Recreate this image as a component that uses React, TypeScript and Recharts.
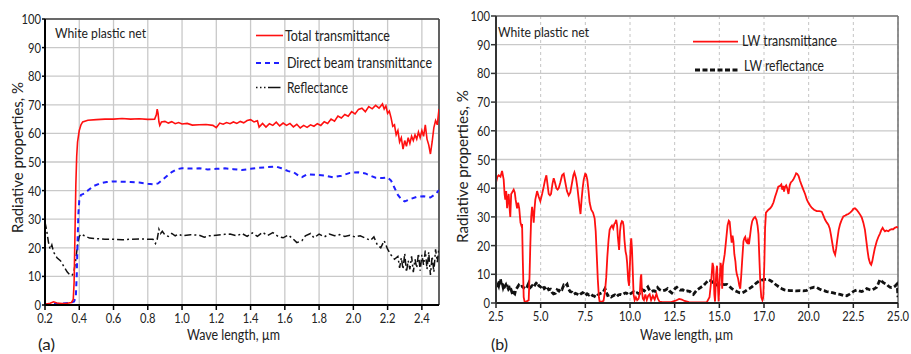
import React from 'react';
import { LineChart, Line, XAxis, YAxis, CartesianGrid, ReferenceLine, Legend } from 'recharts';

const FONT = "Lato, 'Noto Sans', sans-serif";

// ---------- Panel (a) : solar range ----------
const aTicks = [0.2, 0.4, 0.6, 0.8, 1.0, 1.2, 1.4, 1.6, 1.8, 2.0, 2.2, 2.4];
const yTicks = [0, 10, 20, 30, 40, 50, 60, 70, 80, 90, 100];

const aTotal: [number, number][] = [
  [0.2, 0.2], [0.23, 0.6], [0.25, 1.1], [0.27, 0.7], [0.3, 0.5], [0.33, 0.6], [0.355, 0.9], [0.365, 2],
  [0.37, 8], [0.375, 25], [0.38, 42], [0.385, 52], [0.39, 57], [0.4, 61], [0.41, 63], [0.42, 64],
  [0.45, 64.6], [0.5, 64.8], [0.55, 65], [0.6, 65], [0.65, 65.2], [0.7, 65], [0.75, 65.1], [0.8, 64.9],
  [0.84, 65], [0.85, 66.5], [0.855, 68.5], [0.86, 67], [0.865, 64], [0.87, 62.8], [0.88, 64], [0.9, 64.2],
  [0.92, 63.6], [0.94, 64.1], [0.96, 63.4], [0.98, 63.8], [1.0, 63.3], [1.03, 63.5], [1.06, 62.9], [1.1, 63],
  [1.14, 63.1], [1.18, 62.8], [1.2, 62.0], [1.22, 63.6], [1.24, 63.2], [1.26, 63.8], [1.28, 63.4], [1.3, 64],
  [1.32, 63.5], [1.34, 64.2], [1.36, 63.7], [1.38, 64.5], [1.4, 64.8], [1.42, 64], [1.44, 64.4], [1.45, 62.2],
  [1.47, 63.5], [1.49, 62.2], [1.51, 63.4], [1.53, 62.8], [1.55, 63.9], [1.57, 62.6], [1.59, 63.6], [1.61, 62.8],
  [1.63, 63.5], [1.65, 62.3], [1.67, 63.2], [1.69, 61.9], [1.71, 62.8], [1.73, 62.1], [1.75, 63], [1.77, 62.5],
  [1.79, 63.4], [1.81, 62.8], [1.83, 64.1], [1.85, 63.5], [1.87, 65], [1.89, 64.3], [1.91, 66.1], [1.93, 65.4],
  [1.95, 66.6], [1.97, 66], [1.99, 67.6], [2.01, 66.8], [2.03, 68.4], [2.05, 68.8], [2.07, 67.6], [2.09, 69.4],
  [2.11, 68.6], [2.13, 69.8], [2.15, 68.8], [2.17, 70.3], [2.18, 68.5], [2.19, 69.6], [2.2, 67], [2.21, 67.8],
  [2.22, 65.5], [2.23, 62.5], [2.24, 63], [2.25, 59.5], [2.26, 61], [2.27, 57], [2.28, 58.5], [2.29, 54.5],
  [2.3, 57.5], [2.31, 55.5], [2.32, 58.5], [2.33, 56.5], [2.34, 59], [2.35, 57.5], [2.36, 59.5], [2.37, 58],
  [2.38, 60.5], [2.39, 58.5], [2.4, 61], [2.41, 59], [2.42, 63], [2.43, 58], [2.44, 56], [2.45, 52.8],
  [2.46, 57], [2.47, 62], [2.48, 64.5], [2.49, 63], [2.5, 68.5],
];

const aDirect: [number, number][] = [
  [0.2, 0.3], [0.25, 0.3], [0.3, 0.5], [0.35, 0.8], [0.37, 1.2], [0.38, 3], [0.385, 10], [0.39, 22],
  [0.395, 32], [0.4, 36.5], [0.41, 38.5], [0.43, 39], [0.45, 40], [0.48, 41.5], [0.52, 42.5], [0.56, 43],
  [0.6, 43.2], [0.65, 43.1], [0.7, 43], [0.75, 42.8], [0.8, 42.4], [0.84, 42.2], [0.86, 42.5], [0.88, 43.5],
  [0.91, 45], [0.94, 46.5], [0.97, 47.5], [1.0, 47.8], [1.05, 47.7], [1.1, 47.8], [1.15, 47.4], [1.2, 47.6],
  [1.25, 47.8], [1.3, 47.5], [1.35, 47.2], [1.4, 47.6], [1.45, 48], [1.5, 48.2], [1.55, 48.4], [1.58, 47.8],
  [1.62, 46.8], [1.65, 46.5], [1.68, 45.2], [1.7, 44.7], [1.73, 45.7], [1.78, 45.5], [1.83, 45.3], [1.88, 44.7],
  [1.93, 45.2], [1.98, 46.2], [2.03, 46.4], [2.07, 46], [2.1, 45.2], [2.13, 44.5], [2.17, 44.4], [2.2, 44.6],
  [2.22, 43.5], [2.24, 41], [2.26, 38.5], [2.28, 37], [2.3, 36.2], [2.33, 37], [2.37, 37.8], [2.41, 38],
  [2.45, 37.6], [2.48, 38.8], [2.5, 40.2],
];

const aReflect: [number, number][] = [
  [0.2, 29], [0.21, 26], [0.22, 22], [0.23, 19.5], [0.24, 21], [0.25, 18.5], [0.27, 16.5], [0.29, 15.5],
  [0.31, 13.5], [0.33, 11.5], [0.35, 10.3], [0.36, 10.5], [0.37, 12], [0.38, 16], [0.39, 21], [0.4, 24],
  [0.41, 24.8], [0.43, 24.2], [0.46, 23.4], [0.5, 23.2], [0.55, 23], [0.6, 23], [0.65, 22.8], [0.7, 23],
  [0.75, 23.1], [0.8, 23], [0.83, 23], [0.845, 21.5], [0.855, 23], [0.865, 26.5], [0.875, 25], [0.885, 25.8],
  [0.9, 24.5], [0.92, 24], [0.94, 25], [0.96, 24.2], [0.98, 24.8], [1.0, 24.2], [1.05, 24.6], [1.1, 24.4],
  [1.13, 23.7], [1.16, 24.2], [1.2, 24.4], [1.25, 24.7], [1.28, 24.8], [1.32, 24.2], [1.35, 25], [1.38, 24],
  [1.41, 25.2], [1.44, 24], [1.47, 25.4], [1.5, 24.3], [1.53, 25.3], [1.56, 24], [1.59, 23.5], [1.62, 24.5],
  [1.65, 23], [1.67, 21.8], [1.7, 22.5], [1.72, 24.2], [1.75, 25], [1.77, 23.5], [1.8, 24.8], [1.83, 23.8],
  [1.86, 24.8], [1.89, 24.2], [1.92, 24.6], [1.95, 24], [1.98, 24.4], [2.01, 23.8], [2.04, 24.2], [2.07, 23.4],
  [2.1, 22.6], [2.12, 23.8], [2.14, 21], [2.16, 20], [2.18, 22.5], [2.2, 19.5], [2.22, 17.5], [2.24, 16],
  [2.26, 17], [2.27, 13], [2.28, 16.5], [2.29, 12.5], [2.3, 18], [2.31, 11.5], [2.32, 15.5], [2.33, 12.5],
  [2.34, 17], [2.35, 11.5], [2.36, 16], [2.37, 13], [2.38, 18], [2.39, 12], [2.4, 17.5], [2.41, 14],
  [2.42, 19], [2.43, 12.5], [2.44, 18.5], [2.45, 10.5], [2.46, 17], [2.47, 11.5], [2.48, 19.5], [2.49, 15],
  [2.5, 20],
];

// ---------- Panel (b) : long-wave range ----------
const bTicks = [2.5, 5, 7.5, 10, 12.5, 15, 17.5, 20, 22.5, 25];
const bTickLabels = ['2.5', '5.0', '7.5', '10.0', '12.5', '15.0', '17.0', '20.0', '22.5', '25.0'];

const bTrans: [number, number][] = [
  [2.5, 42], [2.58, 44], [2.65, 44.5], [2.75, 44], [2.84, 46], [2.93, 43], [2.98, 38], [3.02, 36],
  [3.07, 39], [3.12, 33], [3.17, 36.5], [3.21, 38], [3.26, 33], [3.3, 30], [3.35, 38], [3.4, 38.5],
  [3.49, 39.5], [3.55, 38.5], [3.6, 36], [3.68, 33], [3.74, 35], [3.8, 33], [3.87, 28], [3.92, 27],
  [3.96, 27.5], [4.0, 15], [4.05, 2], [4.1, 0.5], [4.2, 0.5], [4.33, 1], [4.38, 10], [4.42, 20],
  [4.47, 30], [4.52, 33.5], [4.57, 31], [4.61, 28], [4.66, 33], [4.7, 36], [4.8, 39], [4.89, 37],
  [4.98, 35.5], [5.08, 38], [5.17, 40.5], [5.25, 43], [5.32, 44.5], [5.39, 41], [5.45, 38], [5.52, 37.5],
  [5.58, 38], [5.66, 41.5], [5.73, 43.5], [5.8, 42], [5.88, 40], [5.95, 39.5], [6.01, 40], [6.1, 42],
  [6.2, 44.5], [6.29, 45], [6.38, 42], [6.47, 39], [6.57, 37.5], [6.66, 38.5], [6.76, 42], [6.83, 44.5],
  [6.89, 45.5], [6.98, 43.5], [7.06, 40], [7.13, 36], [7.23, 31], [7.29, 36], [7.35, 40], [7.41, 43],
  [7.49, 45], [7.54, 44.8], [7.61, 43], [7.68, 39], [7.74, 35], [7.83, 32.5], [7.93, 31.5], [8.02, 29.5],
  [8.08, 25], [8.13, 18], [8.2, 8], [8.26, 2], [8.3, 0.5], [8.45, 0.5], [8.52, 0.8], [8.6, 4],
  [8.67, 9], [8.73, 16], [8.8, 22], [8.86, 25.5], [8.93, 26.5], [8.99, 27], [9.06, 26], [9.12, 27.5],
  [9.18, 28], [9.23, 29], [9.28, 27], [9.32, 23], [9.39, 18.5], [9.44, 25], [9.49, 27.5], [9.55, 28.5],
  [9.6, 28.3], [9.64, 27], [9.69, 22], [9.75, 18], [9.8, 16.5], [9.84, 14], [9.9, 8], [9.95, 6],
  [10.0, 14], [10.04, 21], [10.07, 22.5], [10.11, 19], [10.15, 12], [10.2, 3], [10.26, 1], [10.33, 2],
  [10.4, 1], [10.48, 1.5], [10.55, 3.5], [10.6, 9], [10.63, 10], [10.67, 4], [10.72, 1.5], [10.78, 1],
  [10.86, 3], [10.94, 1], [11.02, 2.5], [11.1, 3], [11.18, 1], [11.28, 2.5], [11.38, 1.2], [11.48, 3.2],
  [11.56, 1.5], [11.65, 0.5], [11.8, 0.3], [12.0, 0.3], [12.3, 0.3], [12.55, 0.8], [12.75, 1.4], [12.9, 1.2],
  [13.05, 0.7], [13.3, 0.3], [13.6, 0.2], [14.0, 0.2], [14.3, 0.3], [14.45, 2], [14.55, 8], [14.62, 14],
  [14.67, 12.5], [14.72, 3], [14.76, 0.5], [14.82, 10], [14.87, 13], [14.92, 6], [14.96, 0.5], [15.02, 8],
  [15.07, 14], [15.12, 12], [15.16, 5], [15.2, 13], [15.25, 15], [15.3, 17], [15.38, 22], [15.46, 27],
  [15.53, 28.7], [15.58, 28.3], [15.64, 24], [15.69, 21], [15.74, 23.5], [15.79, 21.5], [15.84, 17], [15.9, 14.5],
  [15.94, 11.5], [15.98, 10], [16.05, 8.5], [16.12, 6], [16.17, 5], [16.22, 9], [16.28, 15], [16.35, 21.5],
  [16.4, 22.5], [16.45, 23], [16.5, 21.5], [16.55, 21], [16.6, 22], [16.66, 20.5], [16.72, 23.5], [16.78, 26.5],
  [16.84, 28.5], [16.92, 29.5], [17.0, 30], [17.08, 29], [17.14, 27], [17.19, 24], [17.25, 14], [17.3, 6],
  [17.35, 2], [17.41, 1], [17.46, 2], [17.52, 14], [17.56, 26], [17.61, 31.5], [17.68, 32], [17.75, 32.5],
  [17.85, 33], [17.94, 33.8], [18.03, 35], [18.12, 37], [18.2, 38.5], [18.3, 40.5], [18.4, 40.8], [18.47, 41.3],
  [18.52, 39.5], [18.58, 40.8], [18.62, 38.8], [18.68, 40.5], [18.74, 41], [18.8, 40], [18.87, 38], [18.94, 41],
  [19.0, 42], [19.08, 42.5], [19.14, 43], [19.22, 44], [19.3, 45.2], [19.36, 45], [19.44, 44.2], [19.52, 42.5],
  [19.61, 41], [19.7, 39.5], [19.8, 38], [19.9, 36], [19.98, 35], [20.08, 34], [20.17, 33.2], [20.3, 32.5],
  [20.45, 32], [20.6, 32], [20.73, 31.8], [20.82, 30.5], [20.92, 29], [21.02, 28], [21.1, 27.3], [21.18, 26],
  [21.24, 24], [21.32, 21], [21.4, 18], [21.48, 16.8], [21.54, 19], [21.6, 22], [21.68, 25.5], [21.76, 27.5],
  [21.85, 29], [21.94, 30.2], [22.05, 30.5], [22.13, 30.8], [22.22, 31], [22.32, 31.5], [22.41, 32], [22.5, 32.8],
  [22.59, 33], [22.68, 32.5], [22.78, 31.7], [22.88, 30.8], [22.97, 29.8], [23.06, 28], [23.15, 25.5], [23.22, 22],
  [23.3, 18], [23.36, 15.5], [23.44, 13.8], [23.5, 13.3], [23.56, 14.5], [23.62, 16.5], [23.7, 19], [23.81, 21.5],
  [23.9, 23], [23.99, 24.2], [24.07, 25.5], [24.14, 26.2], [24.2, 25.5], [24.27, 25], [24.35, 25.3], [24.46, 25],
  [24.55, 25.5], [24.64, 25.7], [24.73, 25.7], [24.82, 26.2], [24.93, 26.5], [25.0, 26.2],
];

const bReflect: [number, number][] = [
  [2.5, 7.4], [2.55, 6.2], [2.6, 6.8], [2.65, 6], [2.7, 7.5], [2.75, 8.3], [2.8, 6.5], [2.85, 7],
  [2.9, 5.5], [2.95, 6.5], [3.0, 5.8], [3.05, 6.3], [3.1, 5.2], [3.15, 5.6], [3.2, 4.8], [3.25, 5.2],
  [3.3, 4.2], [3.35, 4.5], [3.4, 3.6], [3.45, 2.8], [3.5, 3.5], [3.55, 3.2], [3.6, 4.5], [3.7, 5.5],
  [3.77, 6.2], [3.85, 5.5], [3.95, 5.8], [4.05, 5.3], [4.15, 6.2], [4.25, 5.8], [4.33, 6.9], [4.42, 5.4],
  [4.52, 6], [4.6, 5.5], [4.7, 6.5], [4.8, 7.3], [4.9, 6], [5.0, 5.6], [5.1, 6.2], [5.2, 5],
  [5.35, 5.8], [5.45, 4.6], [5.55, 4.8], [5.63, 3.8], [5.72, 3.2], [5.82, 3.4], [5.92, 4.6], [6.02, 4.2],
  [6.12, 5.2], [6.2, 4.8], [6.29, 6.2], [6.38, 5.8], [6.48, 6.5], [6.55, 5], [6.65, 4], [6.75, 3.8],
  [6.85, 3], [6.95, 3.4], [7.05, 3.1], [7.15, 2.6], [7.25, 3.2], [7.35, 3.6], [7.41, 3.4], [7.5, 2.6],
  [7.6, 3.2], [7.7, 2.8], [7.8, 3.2], [7.9, 2.6], [8.0, 2.4], [8.1, 2], [8.2, 2.8], [8.3, 3.2],
  [8.4, 3.5], [8.5, 3.8], [8.6, 5], [8.67, 3.8], [8.75, 2.6], [8.85, 2.8], [8.95, 2.1], [9.05, 2.5],
  [9.15, 2.8], [9.25, 2.2], [9.35, 2.8], [9.46, 3], [9.55, 2.8], [9.65, 3.2], [9.75, 3.5], [9.82, 3.4],
  [9.92, 2.8], [10.02, 3.2], [10.12, 3.6], [10.2, 3.9], [10.3, 3.4], [10.4, 3.6], [10.5, 3.2], [10.6, 3.6],
  [10.7, 4.6], [10.8, 4.2], [10.9, 5], [11.0, 5.6], [11.1, 4.4], [11.2, 4], [11.3, 4.3], [11.4, 4.1],
  [11.54, 5.4], [11.62, 4.8], [11.7, 4.5], [11.8, 4.2], [11.97, 4.5], [12.1, 5], [12.2, 4.2], [12.34, 3.5],
  [12.45, 4.5], [12.55, 5.2], [12.62, 5.5], [12.7, 5], [12.8, 4.5], [12.95, 4.6], [13.08, 4], [13.22, 4.2],
  [13.36, 4], [13.45, 3.4], [13.55, 3], [13.65, 3.8], [13.74, 4.5], [13.9, 5.2], [14.1, 6], [14.25, 7],
  [14.4, 8], [14.5, 7.8], [14.57, 7.5], [14.7, 6.8], [14.85, 6.3], [15.0, 6.5], [15.13, 6.6], [15.28, 6.4],
  [15.42, 6.5], [15.56, 5.8], [15.7, 5], [15.84, 4.4], [15.98, 4], [16.12, 3.6], [16.26, 3.5], [16.4, 3.9],
  [16.54, 4.5], [16.68, 5], [16.82, 5.6], [16.96, 6.4], [17.1, 7.1], [17.24, 7.7], [17.38, 8], [17.52, 8.2],
  [17.66, 8.3], [17.8, 8], [17.94, 7.5], [18.08, 6.8], [18.22, 6.1], [18.36, 5.5], [18.5, 5], [18.64, 4.6],
  [18.78, 4.4], [18.95, 4.3], [19.14, 4.3], [19.32, 4.2], [19.52, 4.3], [19.7, 4.2], [19.89, 4.4], [20.03, 5],
  [20.17, 5.3], [20.3, 5.5], [20.45, 5.4], [20.6, 4.9], [20.73, 4.5], [20.87, 4.3], [21.0, 4], [21.19, 3.8],
  [21.38, 3.5], [21.57, 3.2], [21.76, 3], [21.95, 2.6], [22.13, 2.5], [22.27, 3], [22.41, 3.6], [22.55, 4.2],
  [22.69, 4.5], [22.83, 4.2], [22.97, 4], [23.11, 4.4], [23.25, 5], [23.39, 4.7], [23.53, 4.5], [23.62, 4.8],
  [23.71, 5.1], [23.8, 5.5], [23.9, 6.8], [23.99, 8.2], [24.09, 7.6], [24.18, 7.1], [24.27, 6.8], [24.37, 6.5],
  [24.46, 5.9], [24.55, 5.5], [24.64, 5.4], [24.74, 5.5], [24.84, 5.9], [24.93, 6.5], [24.97, 5], [25.0, 2],
];

const toData = (arr: [number, number][]) => arr.map(([w, v]) => ({ w, v }));

const aTotalData = toData(aTotal);
const aDirectData = toData(aDirect);
const aReflectData = toData(aReflect);
const bTransData = toData(bTrans);
const bReflectData = toData(bReflect);

const RED = '#ff1010';
const BLUE = '#1f1fff';
const BLACK = '#111111';
const TXT = '#222222';
const SQ = 0.8; // horizontal squeeze of the narrow tick font

const makeXTick = (fmt: (v: number, i: number) => string) => (props: any) => {
  const { x, y, payload, index } = props;
  return (
    <text transform={`translate(${x} ${y}) scale(${SQ} 1)`} x={0} y={0} dy="0.72em" textAnchor="middle" fontSize={14} fill={TXT}>
      {fmt(payload.value, index)}
    </text>
  );
};

const YTick = (props: any) => {
  const { x, y, payload } = props;
  return (
    <text transform={`translate(${x} ${y}) scale(${SQ} 1)`} x={0} y={0} dy="0.36em" textAnchor="end" fontSize={14} fill={TXT}>
      {String(payload.value)}
    </text>
  );
};

const aXTick = makeXTick((v) => v.toFixed(1));
const bXTick = makeXTick((_v, i) => bTickLabels[i]);

const LegendA = () => (
  <svg width={200} height={80} style={{ display: 'block', overflow: 'visible' }}>
    <line x1={6} y1={13.5} x2={33} y2={13.5} stroke={RED} strokeWidth={1.6} />
    <text x={35} y={18.5} fontSize={15} fill={TXT} textLength={105} lengthAdjust="spacingAndGlyphs">Total transmittance</text>
    <line x1={6} y1={41} x2={31} y2={41} stroke={BLUE} strokeWidth={2} strokeDasharray="5 4" />
    <text x={37} y={46} fontSize={15} fill={TXT} textLength={145} lengthAdjust="spacingAndGlyphs">Direct beam transmittance</text>
    <line x1={6} y1={65.5} x2={32} y2={65.5} stroke={BLACK} strokeWidth={1.6} strokeDasharray="1.5 2.5 1.5 2.5 1.5 2.5 11 0" />
    <text x={37} y={70.5} fontSize={15} fill={TXT} textLength={61} lengthAdjust="spacingAndGlyphs">Reflectance</text>
  </svg>
);

const LegendB = () => (
  <svg width={160} height={60} style={{ display: 'block', overflow: 'visible' }}>
    <line x1={3} y1={16.7} x2={48} y2={16.7} stroke={RED} strokeWidth={1.8} />
    <text x={52} y={20.5} fontSize={15} fill={TXT} textLength={95} lengthAdjust="spacingAndGlyphs">LW transmittance</text>
    <line x1={5} y1={45} x2={49} y2={45} stroke={BLACK} strokeWidth={3} strokeDasharray="5 2.5" />
    <text x={54} y={46} fontSize={15} fill={TXT} textLength={80} lengthAdjust="spacingAndGlyphs">LW reflectance</text>
  </svg>
);

export default function App() {
  return (
    <div style={{ position: 'absolute', left: 0, top: 0, width: 911, height: 354, background: '#fff', fontFamily: FONT, overflow: 'hidden' }}>
      <div style={{ position: 'absolute', left: 0, top: 0 }}>
        <LineChart width={450} height={354} margin={{ top: 19, right: 11, bottom: 0, left: 0 }}>
          <CartesianGrid stroke="#c9c9c9" strokeWidth={1.3} />
          <XAxis
            dataKey="w"
            type="number"
            domain={[0.2, 2.5]}
            ticks={aTicks}
            interval={0}
            allowDataOverflow
            height={49}
            tickSize={5}
            tickMargin={3}
            tick={aXTick}
            axisLine={{ stroke: '#000', strokeWidth: 2 }}
            tickLine={{ stroke: '#000', strokeWidth: 1.5 }}
          />
          <YAxis
            type="number"
            domain={[0, 100]}
            ticks={yTicks}
            interval={0}
            width={45}
            tickSize={3}
            tickMargin={1}
            tick={YTick}
            axisLine={{ stroke: '#000', strokeWidth: 2 }}
            tickLine={{ stroke: '#000', strokeWidth: 1.5 }}
          />
          <ReferenceLine y={100} stroke="#444" strokeWidth={1.6} />
          <ReferenceLine x={2.5} stroke="#444" strokeWidth={1.6} />
          <Legend
            layout="vertical"
            align="center"
            verticalAlign="middle"
            content={() => <LegendA />}
            wrapperStyle={{ left: 250, top: 22, width: 195, height: 80 }}
          />
          <Line data={aReflectData} dataKey="v" name="Reflectance" type="linear" stroke={BLACK} strokeWidth={1.5} strokeDasharray="7 3 2 3" dot={false} isAnimationActive={false} />
          <Line data={aDirectData} dataKey="v" name="Direct beam transmittance" type="linear" stroke={BLUE} strokeWidth={2} strokeDasharray="5 4" dot={false} isAnimationActive={false} />
          <Line data={aTotalData} dataKey="v" name="Total transmittance" type="linear" stroke={RED} strokeWidth={1.6} dot={false} isAnimationActive={false} />
        </LineChart>
      </div>

      <div style={{ position: 'absolute', left: 450, top: 0 }}>
        <LineChart width={461} height={354} margin={{ top: 16, right: 13, bottom: 0, left: 0 }}>
          <CartesianGrid vertical={false} stroke="#c9c9c9" strokeWidth={1.3} />
          <CartesianGrid horizontal={false} stroke="#c4c4c4" strokeWidth={1} strokeDasharray="3 3" />
          <XAxis
            dataKey="w"
            type="number"
            domain={[2.5, 25]}
            ticks={bTicks}
            interval={0}
            allowDataOverflow
            height={51}
            tickSize={5}
            tickMargin={3}
            tick={bXTick}
            axisLine={{ stroke: '#222', strokeWidth: 2 }}
            tickLine={{ stroke: '#222', strokeWidth: 1.5 }}
          />
          <YAxis
            type="number"
            domain={[0, 100]}
            ticks={yTicks}
            interval={0}
            width={46}
            tickSize={5}
            tickMargin={1}
            tick={YTick}
            axisLine={{ stroke: '#333', strokeWidth: 2 }}
            tickLine={{ stroke: '#333', strokeWidth: 1.5 }}
          />
          <ReferenceLine y={100} stroke="#777" strokeWidth={1.6} />
          <ReferenceLine x={25} stroke="#777" strokeWidth={1.6} />
          <Legend
            layout="vertical"
            align="center"
            verticalAlign="middle"
            content={() => <LegendB />}
            wrapperStyle={{ left: 240, top: 25, width: 160, height: 60 }}
          />
          <Line data={bReflectData} dataKey="v" name="LW reflectance" type="linear" stroke={BLACK} strokeWidth={2.8} strokeDasharray="5 2.5" dot={false} isAnimationActive={false} />
          <Line data={bTransData} dataKey="v" name="LW transmittance" type="linear" stroke={RED} strokeWidth={1.8} dot={false} isAnimationActive={false} />
        </LineChart>
      </div>

      <svg width={911} height={354} style={{ position: 'absolute', left: 0, top: 0, pointerEvents: 'none' }}>
        <text x={55} y={37.5} fontSize={14} fill={TXT} textLength={91} lengthAdjust="spacingAndGlyphs">White plastic net</text>
        <text x={498} y={37} fontSize={14} fill={TXT} textLength={91} lengthAdjust="spacingAndGlyphs">White plastic net</text>
        <text transform="translate(23,157.5) rotate(-90)" x={-75.5} y={0} fontSize={15} fill={TXT} textLength={151} lengthAdjust="spacingAndGlyphs">Radiative properties, %</text>
        <text transform="translate(468,166.5) rotate(-90)" x={-76.5} y={0} fontSize={15} fill={TXT} textLength={153} lengthAdjust="spacingAndGlyphs">Radiative properties, %</text>
        <text x={187} y={340} fontSize={14.5} fill={TXT} textLength={93} lengthAdjust="spacingAndGlyphs">Wave length, µm</text>
        <text x={640} y={340} fontSize={14.5} fill={TXT} textLength={93} lengthAdjust="spacingAndGlyphs">Wave length, µm</text>
        <text x={38} y={350} fontSize={16} fill={TXT} textLength={17} lengthAdjust="spacingAndGlyphs">(a)</text>
        <text x={491} y={350} fontSize={16} fill={TXT} textLength={17} lengthAdjust="spacingAndGlyphs">(b)</text>
      </svg>
    </div>
  );
}
